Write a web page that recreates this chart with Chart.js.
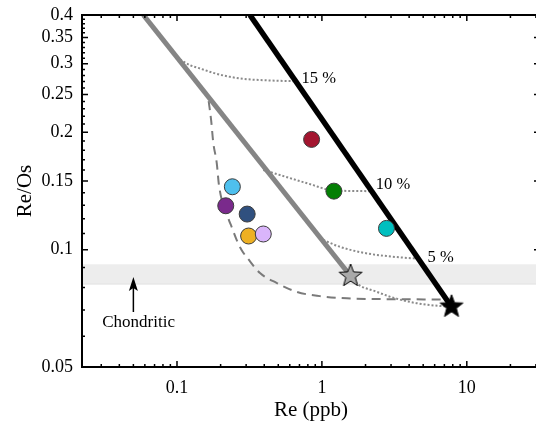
<!DOCTYPE html>
<html><head><meta charset="utf-8">
<script src="https://cdn.jsdelivr.net/npm/chart.js@4/dist/chart.umd.min.js"></script>
<style>html,body{margin:0;padding:0;background:#fff;overflow:hidden;}#wrap{width:536px;height:424px;position:relative;overflow:hidden;}</style>
</head><body><div id="wrap"><canvas id="c" width="549" height="424"></canvas></div>
<script>
// ---------- data ----------
const xMin = 0.0221, xMax = 32, yMin = 0.05, yMax = 0.4;
const xTickLabels = [0.1, 1, 10];
const yTickLabels = [0.05, 0.1, 0.15, 0.2, 0.25, 0.3, 0.35, 0.4];

const sampleRe   = [0.241, 0.217, 0.305, 0.312, 0.394, 0.849, 1.21, 2.79];
const sampleReOs = [0.145, 0.1296, 0.1234, 0.1084, 0.1097, 0.1918, 0.1413, 0.1134];
const sampleColors = ['#4ec0ee', '#7a2a8c', '#30507f', '#eeb023', '#dab5fb', '#a3152f', '#047f04', '#00bfbf'];

const starRe   = [1.577, 7.844];
const starReOs = [0.0856, 0.0714];

const greyLineRe   = [0.0586, 1.577];
const greyLineReOs = [0.4, 0.0856];
const blackLineRe   = [0.3186, 7.844];
const blackLineReOs = [0.4, 0.0714];

const dashedRe   = [0.1654, 0.172, 0.178, 0.188, 0.195, 0.226, 0.238, 0.258, 0.279, 0.310, 0.374, 0.489, 0.673, 0.969, 1.487, 2.395, 7.28];
const dashedReOs = [0.2404, 0.215, 0.188, 0.167, 0.146, 0.1203, 0.1145, 0.1059, 0.0998, 0.0946, 0.0871, 0.0821, 0.0779, 0.0760, 0.0750, 0.0747, 0.0745];

const curve15Re   = [0.1049, 0.1229, 0.1441, 0.178, 0.232, 0.3024, 0.3937, 0.5134, 0.634];
const curve15ReOs = [0.3076, 0.2974, 0.2917, 0.2842, 0.2776, 0.2738, 0.2722, 0.2711, 0.2706];
const curve10Re   = [0.3937, 0.5134, 0.6692, 0.871, 1.077, 1.403, 2.033, 2.14];
const curve10ReOs = [0.1601, 0.1554, 0.1508, 0.1464, 0.1428, 0.1416, 0.1413, 0.1412];
const curve5Re    = [1.021, 1.331, 1.927, 2.794, 4.263, 4.62];
const curve5ReOs  = [0.1059, 0.1017, 0.0982, 0.0963, 0.0950, 0.0949];
const curve0Re    = [1.577, 1.735, 2.384, 3.102, 4.499, 6.514, 7.844];
const curve0ReOs  = [0.0856, 0.0820, 0.0780, 0.0753, 0.0729, 0.0717, 0.0714];

const chondriticRange = [0.0816, 0.0913];

const curveLabels    = ['15 %', '10 %', '5 %'];
const curveLabelRe   = [0.7244, 2.357, 5.36];
const curveLabelReOs = [0.2738, 0.1469, 0.0954];

const chondriticLabel = 'Chondritic';
const chondriticLabelRe = 0.0543, chondriticLabelReOs = 0.0649;
const arrowRe = 0.05, arrowTail = 0.0692, arrowTip = 0.0851;

// ---------- helpers ----------
const pts = (xs, ys) => xs.map((v, i) => ({x: v, y: ys[i]}));
const FONT = 'Liberation Serif';

function makeStar(R, fill, stroke) {
  const s = Math.ceil(2 * R + 4);
  const c = document.createElement('canvas');
  c.width = s; c.height = s;
  const g = c.getContext('2d');
  const cx = s / 2, cy = s / 2, r = R * 0.42;
  g.beginPath();
  for (let i = 0; i < 10; i++) {
    const a = -Math.PI / 2 + i * Math.PI / 5;
    const rr = i % 2 === 0 ? R : r;
    const px = cx + rr * Math.cos(a), py = cy + rr * Math.sin(a);
    if (i === 0) g.moveTo(px, py); else g.lineTo(px, py);
  }
  g.closePath();
  g.fillStyle = fill; g.fill();
  g.lineWidth = 1; g.strokeStyle = stroke; g.lineJoin = 'miter'; g.stroke();
  return c;
}
const greyStar = makeStar(12, '#a9a9a9', '#000');
const blackStar = makeStar(12, '#000', '#000');

function lineDs(xs, ys, opts) {
  return Object.assign({
    data: pts(xs, ys), showLine: true, pointRadius: 0, pointHoverRadius: 0,
    fill: false, tension: 0
  }, opts);
}

const dotStyle = {borderColor: '#8a8a8a', borderWidth: 2, borderDash: [2, 2], cubicInterpolationMode: 'monotone'};

const xTickValues = [];
[0.01, 0.1, 1, 10].forEach(d => { for (let m = 1; m <= 9; m++) { const v = +(m * d).toPrecision(3); if (v >= xMin && v <= xMax) xTickValues.push(v); } });
const yTickValues = [];
for (let i = 5; i <= 40; i++) yTickValues.push(+(i / 100).toFixed(2));

const overlay = {
  id: 'overlay',
  afterDatasetsDraw(chart) {
    const {ctx, scales: {x, y}} = chart;
    ctx.save();
    ctx.fillStyle = '#000';
    ctx.font = '16.5px "' + FONT + '"';
    ctx.textBaseline = 'middle';
    ctx.textAlign = 'left';
    curveLabels.forEach((t, i) => {
      ctx.fillText(t, x.getPixelForValue(curveLabelRe[i]), y.getPixelForValue(curveLabelReOs[i]));
    });
    ctx.font = '17px "' + FONT + '"';
    ctx.textAlign = 'center';
    ctx.fillText(chondriticLabel, x.getPixelForValue(chondriticLabelRe), y.getPixelForValue(chondriticLabelReOs));
    // arrow
    const ax = x.getPixelForValue(arrowRe), ay1 = y.getPixelForValue(arrowTail), ay2 = y.getPixelForValue(arrowTip);
    ctx.strokeStyle = '#000'; ctx.lineWidth = 1.5;
    ctx.beginPath(); ctx.moveTo(ax, ay1); ctx.lineTo(ax, ay2 + 10); ctx.stroke();
    ctx.beginPath();
    ctx.moveTo(ax, ay2); ctx.lineTo(ax - 4.5, ay2 + 14); ctx.lineTo(ax, ay2 + 11); ctx.lineTo(ax + 4.5, ay2 + 14);
    ctx.closePath(); ctx.fill();
    ctx.restore();
  },
  afterDraw(chart) {
    const {ctx, chartArea: a, scales: {x, y}} = chart;
    ctx.save();
    ctx.strokeStyle = '#000';
    ctx.lineWidth = 1.5;
    ctx.beginPath();
    x.ticks.forEach(t => {
      const p = x.getPixelForValue(t.value);
      const L = xTickLabels.includes(t.value) ? 6 : 3;
      ctx.moveTo(p, a.bottom); ctx.lineTo(p, a.bottom - L);
      ctx.moveTo(p, a.top); ctx.lineTo(p, a.top + L);
    });
    y.ticks.forEach(t => {
      const p = y.getPixelForValue(t.value);
      const L = yTickLabels.includes(t.value) ? 6 : 3;
      ctx.moveTo(a.left, p); ctx.lineTo(a.left + L, p);
      ctx.moveTo(a.right, p); ctx.lineTo(a.right - L, p);
    });
    ctx.stroke();
    ctx.lineWidth = 2;
    ctx.strokeRect(a.left, a.top, a.right - a.left, a.bottom - a.top);
    ctx.restore();
  }
};

new Chart(document.getElementById('c'), {
  type: 'scatter',
  data: {
    datasets: [
      // chondritic band
      lineDs([xMin, xMax], [chondriticRange[1], chondriticRange[1]], {borderColor: '#e2e2e2', borderWidth: 1, order: 20}),
      lineDs([xMin, xMax], [chondriticRange[0], chondriticRange[0]], {borderColor: '#e2e2e2', borderWidth: 1, fill: '-1', backgroundColor: '#ededed', order: 19}),
      // dashed curve
      lineDs(dashedRe, dashedReOs, {borderColor: '#7a7a7a', borderWidth: 2, borderDash: [9, 6], cubicInterpolationMode: 'monotone', order: 15}),
      // dotted mixing curves
      lineDs(curve15Re, curve15ReOs, Object.assign({order: 14}, dotStyle)),
      lineDs(curve10Re, curve10ReOs, Object.assign({order: 14}, dotStyle)),
      lineDs(curve5Re, curve5ReOs, Object.assign({order: 14}, dotStyle)),
      lineDs(curve0Re, curve0ReOs, Object.assign({order: 14}, dotStyle)),
      // thick lines
      lineDs(greyLineRe, greyLineReOs, {borderColor: '#858585', borderWidth: 5, order: 10}),
      lineDs(blackLineRe, blackLineReOs, {borderColor: '#000', borderWidth: 5.5, order: 9}),
      // samples
      {data: pts(sampleRe, sampleReOs), pointRadius: 8, pointHoverRadius: 8, pointBackgroundColor: sampleColors,
       pointBorderColor: '#3c3c3c', pointBorderWidth: 1, showLine: false, order: 5},
      // stars
      {data: pts(starRe, starReOs), pointStyle: [greyStar, blackStar], showLine: false, order: 1}
    ]
  },
  options: {
    responsive: false, animation: false, devicePixelRatio: 1, events: [],
    layout: {padding: {top: 15, right: 0, left: 0, bottom: 0}},
    plugins: {legend: {display: false}, tooltip: {enabled: false}},
    scales: {
      x: {
        type: 'logarithmic', min: xMin, max: xMax,
        grid: {display: false, drawTicks: false}, border: {display: false},
        afterBuildTicks: s => { s.ticks = xTickValues.map(v => ({value: v})); },
        afterFit: s => { s.height = 57; s.paddingLeft = 0; s.paddingRight = 0; s.paddingTop = 0; s.paddingBottom = 0; },
        ticks: {autoSkip: false, maxRotation: 0, padding: 10, color: '#000',
          font: {family: FONT, size: 18},
          callback: v => xTickLabels.includes(v) ? String(v) : ''},
        title: {display: true, text: 'Re (ppb)', color: '#000', font: {family: FONT, size: 21, lineHeight: 1}, padding: {top: 0, bottom: 3.5}}
      },
      y: {
        type: 'logarithmic', min: yMin, max: yMax,
        grid: {display: false, drawTicks: false}, border: {display: false},
        afterBuildTicks: s => { s.ticks = yTickValues.map(v => ({value: v})); },
        afterFit: s => { s.width = 82; s.paddingLeft = 0; s.paddingRight = 0; s.paddingTop = 0; s.paddingBottom = 0; },
        ticks: {autoSkip: false, padding: 9, color: '#000',
          font: {family: FONT, size: 18},
          callback: v => yTickLabels.includes(v) ? String(v) : ''},
        title: {display: true, text: 'Re/Os', color: '#000', font: {family: FONT, size: 21, lineHeight: 1}, padding: {top: 14.5, bottom: 0}}
      }
    }
  },
  plugins: [overlay]
});
</script>
</body></html>
